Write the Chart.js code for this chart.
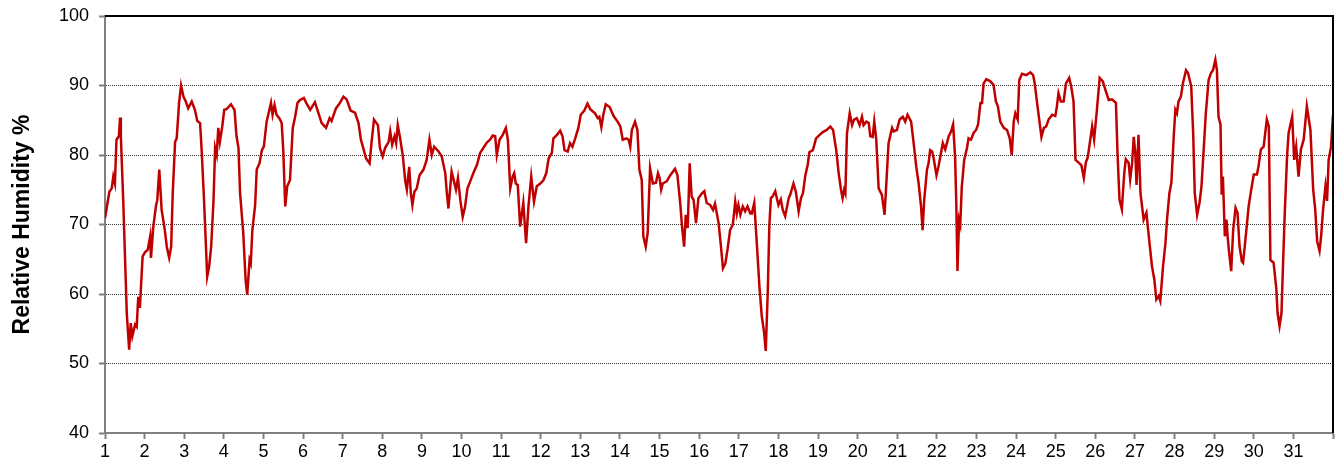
<!DOCTYPE html>
<html>
<head>
<meta charset="utf-8">
<script src="https://cdn.jsdelivr.net/npm/chart.js@4.4.1/dist/chart.umd.min.js"></script>
<style>
  html, body { margin: 0; padding: 0; background: #fff; }
  #wrap { width: 1338px; height: 470px; }
</style>
</head>
<body>
<div id="wrap"><canvas id="rhChart" width="1338" height="470"></canvas></div>
<script>
// time in days (1 = start of day 1)
const days = [
  1.00, 1.11, 1.17, 1.21, 1.25, 1.29, 1.35, 1.38, 1.40, 1.46, 1.55, 1.61, 1.65, 1.69, 1.76, 1.80, 1.84, 1.88, 1.95,
  2.01, 2.08, 2.14, 2.16, 2.22, 2.29, 2.32, 2.37, 2.43, 2.51, 2.56, 2.62, 2.67, 2.71, 2.77, 2.81, 2.87, 2.92, 2.98,
  3.04, 3.10, 3.19, 3.27, 3.33, 3.40, 3.44, 3.50, 3.58, 3.63, 3.68, 3.74, 3.78, 3.82, 3.86, 3.90, 3.96,
  4.01, 4.07, 4.18, 4.27, 4.32, 4.37, 4.41, 4.49, 4.55, 4.59, 4.65, 4.68, 4.72, 4.79, 4.83, 4.90, 4.96,
  5.01, 5.08, 5.15, 5.19, 5.23, 5.28, 5.33, 5.40, 5.46, 5.50, 5.55, 5.60, 5.67, 5.74, 5.80, 5.86, 5.92,
  6.02, 6.08, 6.18, 6.30, 6.39, 6.47, 6.58, 6.67, 6.72, 6.83, 6.93,
  7.02, 7.10, 7.20, 7.31, 7.40, 7.46, 7.52, 7.59, 7.68, 7.73, 7.79, 7.89, 7.94,
  8.01, 8.07, 8.16, 8.20, 8.25, 8.31, 8.35, 8.39, 8.45, 8.52, 8.58, 8.62, 8.68, 8.72, 8.76, 8.81, 8.87, 8.94,
  9.04, 9.12, 9.19, 9.25, 9.31, 9.42, 9.50, 9.59, 9.63, 9.67, 9.71, 9.75, 9.81, 9.86, 9.91, 9.97,
  10.03, 10.09, 10.15, 10.22, 10.30, 10.39, 10.47, 10.55, 10.64, 10.72, 10.79, 10.85, 10.89, 10.96,
  11.04, 11.12, 11.17, 11.23, 11.29, 11.33, 11.37, 11.42, 11.48, 11.56, 11.63, 11.69, 11.76, 11.83, 11.90, 11.99,
  12.07, 12.14, 12.20, 12.28, 12.32, 12.41, 12.49, 12.55, 12.60, 12.68, 12.74, 12.80, 12.87, 12.95,
  13.01, 13.10, 13.18, 13.25, 13.37, 13.44, 13.48, 13.53, 13.58, 13.64, 13.74, 13.84, 13.94,
  14.01, 14.07, 14.16, 14.22, 14.26, 14.30, 14.38, 14.44, 14.49, 14.55, 14.59, 14.65, 14.70, 14.76, 14.83, 14.91, 14.96,
  15.00, 15.04, 15.08, 15.18, 15.27, 15.39, 15.45, 15.52, 15.57, 15.62, 15.66, 15.71, 15.76, 15.81, 15.86, 15.92, 15.98,
  16.07, 16.13, 16.19, 16.28, 16.35, 16.40, 16.49, 16.55, 16.60, 16.66, 16.72, 16.78, 16.85, 16.91, 16.95, 16.99,
  17.04, 17.10, 17.16, 17.22, 17.29, 17.33, 17.39, 17.46, 17.52, 17.58, 17.64, 17.68, 17.73, 17.77, 17.81, 17.85, 17.92,
  18.00, 18.06, 18.11, 18.17, 18.26, 18.30, 18.38, 18.44, 18.51, 18.57, 18.62, 18.68, 18.74, 18.78, 18.87, 18.95,
  19.04, 19.12, 19.22, 19.31, 19.38, 19.46, 19.52, 19.58, 19.62, 19.66, 19.69, 19.73, 19.80, 19.86, 19.91, 19.98,
  20.05, 20.11, 20.15, 20.22, 20.28, 20.32, 20.38, 20.42, 20.47, 20.53, 20.61, 20.68, 20.72, 20.78, 20.87, 20.91, 20.99,
  21.06, 21.14, 21.20, 21.26, 21.35, 21.41, 21.48, 21.54, 21.60, 21.64, 21.68, 21.75, 21.79, 21.83, 21.88, 21.92, 21.99,
  22.04, 22.15, 22.21, 22.30, 22.36, 22.41, 22.46, 22.49, 22.52, 22.56, 22.59, 22.63, 22.69, 22.76, 22.80, 22.86, 22.93, 22.99,
  23.04, 23.10, 23.14, 23.18, 23.25, 23.35, 23.43, 23.49, 23.54, 23.60, 23.69, 23.77, 23.84, 23.89, 23.94, 23.98,
  24.04, 24.08, 24.15, 24.26, 24.36, 24.43, 24.47, 24.53, 24.59, 24.64, 24.70, 24.76, 24.82, 24.91, 24.99,
  25.03, 25.07, 25.13, 25.20, 25.26, 25.34, 25.39, 25.45, 25.50, 25.58, 25.65, 25.71, 25.76, 25.81, 25.86, 25.92, 25.97,
  26.04, 26.11, 26.19, 26.27, 26.34, 26.42, 26.52, 26.56, 26.61, 26.67, 26.73, 26.77, 26.84, 26.88, 26.93, 26.97,
  27.01, 27.04, 27.09, 27.14, 27.22, 27.29, 27.35, 27.43, 27.49, 27.54, 27.60, 27.64, 27.71, 27.77, 27.81, 27.87, 27.92, 27.98,
  28.02, 28.06, 28.10, 28.16, 28.21, 28.29, 28.34, 28.42, 28.47, 28.51, 28.57, 28.63, 28.68, 28.74, 28.79, 28.86, 28.92, 28.97,
  29.03, 29.07, 29.11, 29.16, 29.19, 29.22, 29.27, 29.31, 29.34, 29.37, 29.43, 29.48, 29.54, 29.59, 29.64, 29.70, 29.73, 29.81, 29.87, 29.93,
  30.00, 30.08, 30.12, 30.18, 30.25, 30.29, 30.33, 30.38, 30.42, 30.50, 30.57, 30.60, 30.65, 30.70, 30.74, 30.78, 30.84, 30.88, 30.97,
  31.02, 31.07, 31.13, 31.19, 31.26, 31.34, 31.43, 31.50, 31.55, 31.60, 31.66, 31.70, 31.75, 31.81, 31.85, 31.89, 31.95, 32.00
];

// relative humidity %, same order as days
const humidity = [
  70.9, 74.7, 75.2, 76.9, 75.9, 82.2, 82.7, 85.4, 82.7, 73.5, 57.2, 52.0, 55.8, 53.9, 55.6, 55.3, 59.6, 58.0, 65.4,
  66.0, 66.4, 68.3, 65.2, 69.7, 72.8, 73.5, 77.9, 72.1, 69.2, 66.8, 65.2, 66.8, 74.5, 81.9, 82.4, 87.5, 90.0, 88.4,
  87.7, 86.7, 87.7, 86.5, 84.9, 84.6, 80.7, 73.5, 62.5, 64.0, 66.8, 73.5, 81.0, 80.0, 83.9, 81.9, 84.1,
  86.5, 86.6, 87.3, 86.5, 82.7, 81.0, 74.5, 68.8, 62.0, 59.9, 64.9, 64.4, 69.2, 72.8, 77.9, 78.8, 80.7,
  81.2, 84.8, 86.5, 87.5, 85.8, 87.2, 85.8, 85.3, 84.6, 80.7, 72.6, 75.5, 76.4, 83.9, 85.5, 87.5, 87.9,
  88.2, 87.5, 86.5, 87.6, 86.0, 84.6, 83.9, 85.3, 84.9, 86.7, 87.5,
  88.4, 88.0, 86.4, 86.1, 84.6, 82.2, 81.0, 79.5, 78.8, 81.9, 85.1, 84.3, 81.0,
  79.8, 81.0, 81.9, 83.4, 81.5, 82.7, 81.7, 84.3, 82.4, 79.8, 76.2, 75.0, 78.3, 74.5, 72.8, 74.7, 75.2, 77.1,
  77.9, 79.3, 82.2, 80.0, 81.2, 80.5, 79.8, 77.4, 74.5, 72.3, 75.0, 77.6, 76.2, 75.0, 76.7, 73.5,
  71.1, 72.6, 75.2, 76.2, 77.4, 78.6, 80.3, 81.0, 81.8, 82.2, 82.8, 82.7, 80.0, 82.2,
  82.9, 83.9, 82.2, 75.2, 76.9, 77.4, 75.9, 75.7, 69.7, 73.1, 67.3, 72.6, 76.9, 73.3, 75.5, 75.9,
  76.4, 77.4, 79.5, 80.3, 82.4, 82.9, 83.5, 82.7, 80.7, 80.5, 81.7, 81.2, 82.4, 83.9,
  85.8, 86.4, 87.4, 86.6, 86.0, 85.3, 85.5, 84.0, 85.8, 87.3, 86.9, 85.6, 84.8,
  84.1, 82.2, 82.4, 82.2, 81.2, 83.6, 84.8, 83.6, 77.9, 76.4, 68.3, 66.8, 68.8, 78.1, 75.9, 76.0, 77.4,
  76.7, 75.0, 75.9, 76.2, 77.1, 78.0, 77.1, 73.1, 69.5, 66.8, 71.4, 69.5, 78.8, 74.0, 73.5, 70.2, 73.8,
  74.5, 74.8, 73.1, 72.8, 72.1, 73.0, 70.2, 66.8, 63.7, 64.4, 66.6, 69.2, 70.0, 73.3, 71.6, 72.8,
  71.4, 72.6, 71.9, 72.6, 71.6, 71.6, 73.1, 66.8, 61.1, 56.8, 54.4, 51.8, 60.1, 69.7, 73.8, 74.0, 74.8,
  72.8, 73.6, 72.1, 71.2, 73.8, 74.3, 75.9, 74.7, 71.9, 73.8, 74.5, 77.1, 78.6, 80.4, 80.7, 82.4,
  82.9, 83.3, 83.6, 84.1, 83.6, 80.7, 77.4, 75.0, 73.8, 75.0, 74.5, 83.1, 86.0, 84.3, 85.1, 85.3,
  84.3, 85.5, 84.3, 84.8, 84.6, 82.7, 82.6, 84.8, 82.2, 75.2, 74.3, 71.4, 75.5, 81.7, 83.9, 83.4, 83.6,
  85.1, 85.5, 84.8, 85.8, 84.8, 81.9, 78.3, 75.9, 72.6, 69.2, 73.5, 77.9, 78.8, 80.7, 80.5, 79.5, 77.1,
  78.3, 81.7, 80.8, 82.7, 83.4, 84.4, 79.8, 73.1, 63.3, 70.7, 70.0, 75.5, 79.3, 81.0, 82.4, 82.2, 83.2, 83.6,
  84.4, 87.5, 87.5, 90.3, 90.9, 90.6, 90.1, 87.7, 87.0, 84.8, 83.9, 83.6, 82.4, 80.0, 84.8, 86.0,
  85.1, 90.8, 91.7, 91.5, 91.9, 91.5, 90.3, 87.5, 84.8, 82.6, 83.9, 84.1, 85.1, 85.8, 85.6,
  87.0, 88.9, 87.7, 87.7, 90.3, 91.1, 89.9, 87.7, 79.3, 78.9, 78.5, 76.7, 78.9, 79.7, 81.7, 84.1, 82.2,
  86.5, 91.1, 90.6, 89.1, 87.9, 88.0, 87.5, 80.3, 73.6, 72.2, 77.4, 79.4, 78.9, 76.5, 78.9, 82.6,
  80.3, 75.7, 82.9, 74.5, 70.7, 71.7, 68.3, 64.0, 62.1, 59.2, 59.7, 59.0, 64.0, 67.3, 70.7, 74.5, 76.0, 82.7,
  86.5, 86.0, 87.7, 88.4, 90.3, 92.2, 91.8, 89.9, 83.2, 74.5, 71.4, 73.1, 75.5, 81.2, 86.0, 90.8, 91.8, 92.2,
  93.7, 92.2, 85.5, 84.4, 74.3, 76.9, 68.3, 70.7, 68.3, 66.4, 63.3, 69.2, 72.4, 71.7, 66.9, 64.7, 64.5, 69.0, 72.6, 74.8,
  77.2, 77.2, 78.4, 80.8, 81.2, 83.2, 85.1, 84.1, 64.9, 64.5, 60.7, 57.3, 55.4, 57.3, 64.5, 71.2, 79.8, 83.2, 85.5,
  79.3, 81.2, 76.9, 80.8, 82.2, 87.0, 83.6, 75.0, 72.2, 67.6, 66.2, 68.3, 72.2, 75.5, 73.4, 79.3, 81.2, 85.8
];

const dayLabels = Array.from({ length: 31 }, (_, i) => i + 1);
const yTicks = [40, 50, 60, 70, 80, 90, 100];

const points = days.map((d, i) => ({ x: d, y: humidity[i] }));

// black frame on top and right side, like the original
const frameLines = {
  id: 'frameLines',
  afterDraw(chart) {
    const { ctx, chartArea: a } = chart;
    ctx.save();
    ctx.strokeStyle = '#000';
    ctx.lineWidth = 2;
    ctx.beginPath();
    ctx.moveTo(a.left, a.top);
    ctx.lineTo(a.right, a.top);
    ctx.lineTo(a.right, a.bottom);
    ctx.stroke();
    ctx.restore();
  }
};

new Chart(document.getElementById('rhChart'), {
  type: 'line',
  data: {
    datasets: [{
      data: points,
      borderColor: '#c00000',
      borderWidth: 2.5,
      pointRadius: 0,
      tension: 0,
      fill: false
    }]
  },
  options: {
    responsive: false,
    animation: false,
    devicePixelRatio: 1,
    layout: { padding: { top: 16, right: 5, left: 0, bottom: 0 } },
    plugins: { legend: { display: false }, tooltip: { enabled: false } },
    scales: {
      x: {
        type: 'linear',
        min: 1,
        max: 32,
        afterFit: s => { s.height = 37; s.paddingLeft = 0; s.paddingRight = 0; },
        afterBuildTicks: s => { s.ticks = dayLabels.concat([32]).map(v => ({ value: v })); },
        ticks: {
          color: '#000',
          font: { family: 'Arial, "Liberation Sans"', size: 18 },
          padding: 2,
          maxRotation: 0,
          autoSkip: false,
          callback: v => (dayLabels.includes(v) ? String(v) : '')
        },
        grid: { drawOnChartArea: false, tickColor: '#808080', tickLength: 6, tickWidth: 2 },
        border: { color: '#808080', width: 2 }
      },
      y: {
        min: 40,
        max: 100,
        afterFit: s => { s.width = 105; s.paddingTop = 0; s.paddingBottom = 0; },
        afterBuildTicks: s => { s.ticks = yTicks.map(v => ({ value: v })); },
        ticks: {
          color: '#000',
          font: { family: 'Arial, "Liberation Sans"', size: 18 },
          padding: 10
        },
        grid: {
          color: c => (c.tick && c.tick.value > 40 && c.tick.value < 100 ? '#333' : 'rgba(0,0,0,0)'),
          lineWidth: 1,
          tickColor: '#808080',
          tickLength: 6,
          tickWidth: 2
        },
        border: { color: '#808080', width: 2, dash: [1, 1] },
        title: {
          display: true,
          text: 'Relative Humidity %',
          color: '#000',
          font: { family: 'Arial, "Liberation Sans"', size: 23, weight: 'bold' },
          padding: { top: 9, bottom: 0 }
        }
      }
    }
  },
  plugins: [frameLines]
});
</script>
</body>
</html>
